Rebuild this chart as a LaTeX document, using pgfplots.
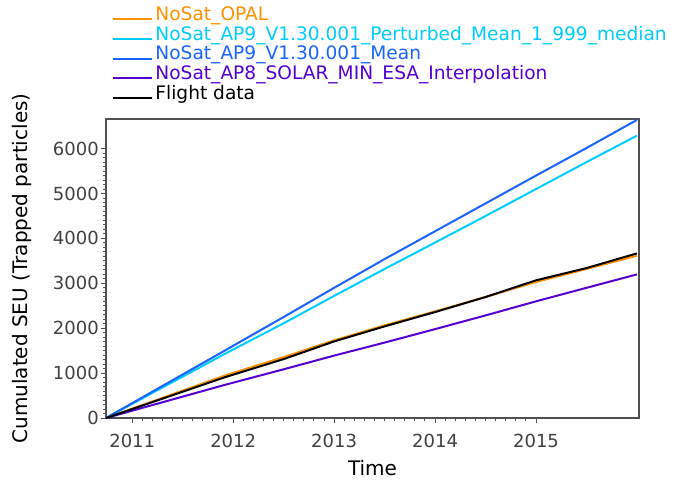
\documentclass[border=0pt]{standalone}
\usepackage{fontspec}
\setmainfont{DejaVu Sans}
\usepackage{pgfplots}
\pgfplotsset{compat=1.18}

\definecolor{opal}{RGB}{255,145,0}
\definecolor{apnine}{RGB}{0,205,255}
\definecolor{apmean}{RGB}{25,100,255}
\definecolor{apeight}{RGB}{85,0,210}
\definecolor{axgray}{RGB}{80,80,80}

\begin{document}
\begin{tikzpicture}
\begin{axis}[
    name=ax,
    scale only axis,
    width=266.5pt, height=149.5pt,
    xmin=2010.74, xmax=2016.02,
    ymin=0, ymax=6660,
    xtick={2011,2012,2013,2014,2015},
    ytick={0,1000,2000,3000,4000,5000,6000},
    minor x tick num=9,
    minor y tick num=9,
    tick pos=left,
    tick align=outside,
    major tick length=2.6pt,
    minor tick length=1.4pt,
    axis line style={draw=axgray, line width=0.6pt},
    tick style={draw=axgray, line width=0.5pt},
    /pgf/number format/1000 sep={},
    /pgf/number format/assume math mode=true,
    tick label style={font=\fontsize{9}{10}\selectfont, text=black!75},
    xticklabel style={yshift=-2pt},
    yticklabel style={xshift=2.5pt},
    label style={font=\fontsize{8.5}{10}\selectfont, text=black!75},
    xlabel={Time},
    ylabel={Cumulated SEU (Trapped particles)},
    every axis x label/.style={at={(rel axis cs:0.5,0)}, yshift=-25pt, anchor=center},
    every axis y label/.style={at={(rel axis cs:0,0.5)}, xshift=-42pt, rotate=90, anchor=center},
    legend style={
        at={(rel axis cs:0,1)},
        anchor=south west,
        xshift=3pt, yshift=7pt,
        draw=none, fill=none,
        font=\fontsize{9.3}{10}\selectfont,
        row sep=0pt,
        inner sep=0pt,
        nodes={inner ysep=0.5pt, inner xsep=1pt, text height=6.9pt, text depth=2pt},
    },
    legend cell align=left,
    legend image code/.code={\draw[#1, line width=1pt] (0pt,-1.8pt) -- (19.5pt,-1.8pt);},
    every axis plot/.append style={line width=1pt},
]
\addplot[opal] coordinates {
    (2010.74,0) (2011,209) (2011.92,948) (2012.5,1357) (2013,1730) (2013.5,2063)
    (2014,2376) (2014.5,2695) (2015,3030) (2015.5,3320) (2016,3614)
};
\addlegendentry{\textcolor{opal}{NoSat\_OPAL}}
\addplot[apnine] coordinates {
    (2010.74,0) (2011,316) (2011.92,1432) (2012.5,2110) (2013,2720) (2013.5,3320)
    (2014,3908) (2014.5,4500) (2015,5100) (2015.5,5700) (2016,6290)
};
\addlegendentry{\textcolor{apnine}{NoSat\_AP9\_V1.30.001\_Perturbed\_Mean\_1\_999\_median}}
\addplot[apmean] coordinates {
    (2010.74,0) (2011,332) (2011.92,1506) (2012.5,2250) (2013,2900) (2013.5,3540)
    (2014,4160) (2014.5,4780) (2015,5400) (2015.5,6014) (2016,6640)
};
\addlegendentry{\textcolor{apmean}{NoSat\_AP9\_V1.30.001\_Mean}}
\addplot[apeight] coordinates {
    (2010.74,0) (2011,163) (2011.92,740) (2012.5,1085) (2013,1390) (2013.5,1680)
    (2014,1980) (2014.5,2285) (2015,2599) (2015.5,2900) (2016,3199)
};
\addlegendentry{\textcolor{apeight}{NoSat\_AP8\_SOLAR\_MIN\_ESA\_Interpolation}}
\addplot[black] coordinates {
    (2010.74,0) (2011,200) (2011.92,910) (2012.5,1312) (2013,1706) (2013.5,2041)
    (2014,2360) (2014.5,2695) (2015,3067) (2015.5,3340) (2016,3667)
};
\addlegendentry{Flight data}
\end{axis}
\path ([xshift=-53pt,yshift=-31pt]ax.south west) rectangle ([xshift=26.5pt,yshift=59.5pt]ax.north east);
\end{tikzpicture}
\end{document}
